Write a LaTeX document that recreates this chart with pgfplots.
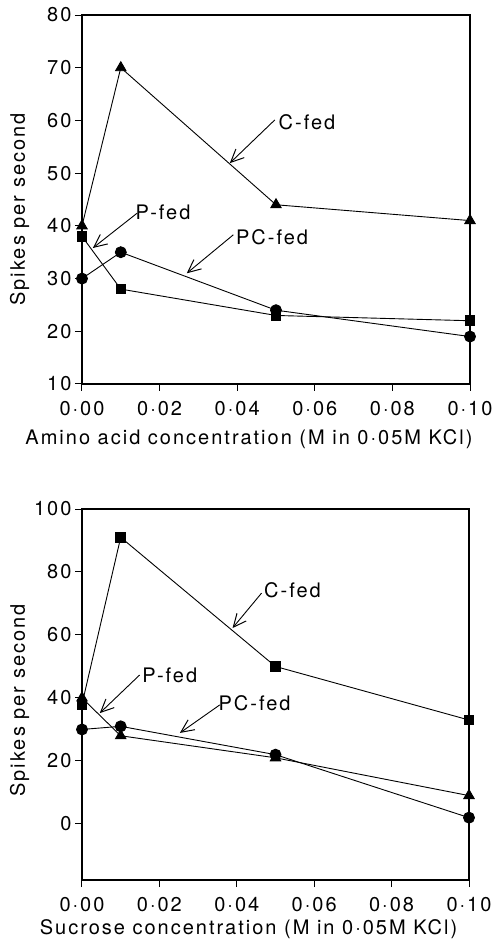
\documentclass[border=0pt]{standalone}
\usepackage{pgfplots}
\pgfplotsset{compat=1.18}
\usepackage{fontspec}
\setmainfont{TeX Gyre Heros}[LetterSpace=10]
\usetikzlibrary{arrows.meta}
\newcommand{\bigf}{\fontsize{20}{24}\selectfont}
\tikzset{
  ann/.style={-{Straight Barb[length=13pt,width=12pt,line width=1pt]}, line width=0.9pt},
  lab/.style={font=\bigf, anchor=center},
}
\begin{document}
\begin{tikzpicture}[x=1pt,y=1pt]
\useasboundingbox (-82pt,15pt) rectangle (412pt,-927pt);
\pgfplotsset{
  every axis/.append style={
    scale only axis, width=388pt,
    xmin=0, xmax=0.1,
    axis line style={line width=1.3pt},
    tick style={line width=1pt, black},
    tick align=outside, tick pos=left,
    major tick length=7pt,
    xtick={0,0.02,0.04,0.06,0.08,0.1},
    xticklabels={0·00,0·02,0·04,0·06,0·08,0·10},
    tick label style={font=\bigf},
    x tick label style={yshift=-7pt},
    label style={font=\bigf},
    /pgf/number format/assume math mode=true,
    ylabel={Spikes per second},
    clip=false,
    every axis plot/.append style={black, line width=0.9pt, mark options={solid, fill=black}},
  },
}
% ---------- top panel ----------
\begin{axis}[at={(0pt,0pt)}, anchor=north west, height=369pt,
  ymin=10, ymax=80, ytick={10,20,30,40,50,60,70,80},
  ylabel shift=11pt,
  ylabel style={xshift=-10pt},
  xlabel style={xshift=-27pt, yshift=-7pt},
  xlabel={Amino acid concentration (M in 0·05M KCl)}]
\addplot[mark=triangle*, mark size=6pt] coordinates {(0,40) (0.01,70) (0.05,44) (0.1,41)};
\addplot[mark=square*, mark size=4.8pt] coordinates {(0,38) (0.01,28) (0.05,23) (0.1,22)};
\addplot[mark=*, mark size=5.5pt] coordinates {(0,30) (0.01,35) (0.05,24) (0.1,19)};
\node[lab] at (axis cs:0.058,59.7) {C-fed};
\draw[ann] (axis cs:0.0497,60.1) -- (axis cs:0.0381,51.9);
\node[lab] at (axis cs:0.0209,42.6) {P-fed};
\draw[ann] (axis cs:0.0142,42.4) -- (axis cs:0.0028,35.8);
\node[lab] at (axis cs:0.049,37.9) {PC-fed};
\draw[ann] (axis cs:0.039,38.3) -- (axis cs:0.027,31.0);
\end{axis}
% ---------- bottom panel ----------
\begin{axis}[at={(0pt,-494pt)}, anchor=north west, height=371pt, width=387pt,
  ymin=-17.8, ymax=100, ytick={0,20,40,60,80,100},
  ylabel shift=-2pt,
  ylabel style={xshift=-6pt},
  xlabel style={xshift=-27pt, yshift=-1pt},
  xlabel={Sucrose concentration (M in 0·05M KCl)}]
\addplot[mark=square*, mark size=4.8pt] coordinates {(0,38) (0.01,91) (0.05,50) (0.1,33)};
\addplot[mark=triangle*, mark size=6pt] coordinates {(0,40) (0.01,28) (0.05,21) (0.1,9)};
\addplot[mark=*, mark size=5.5pt] coordinates {(0,30) (0.01,31) (0.05,22) (0.1,2)};
\node[lab] at (axis cs:0.0544,74.3) {C-fed};
\draw[ann] (axis cs:0.0464,73.3) -- (axis cs:0.0389,62.2);
\node[lab] at (axis cs:0.0227,47.3) {P-fed};
\draw[ann] (axis cs:0.0149,47.3) -- (axis cs:0.0046,35.2);
\node[lab] at (axis cs:0.0446,38.4) {PC-fed};
\draw[ann] (axis cs:0.0356,37.8) -- (axis cs:0.0253,28.9);
\end{axis}
\end{tikzpicture}
\end{document}
